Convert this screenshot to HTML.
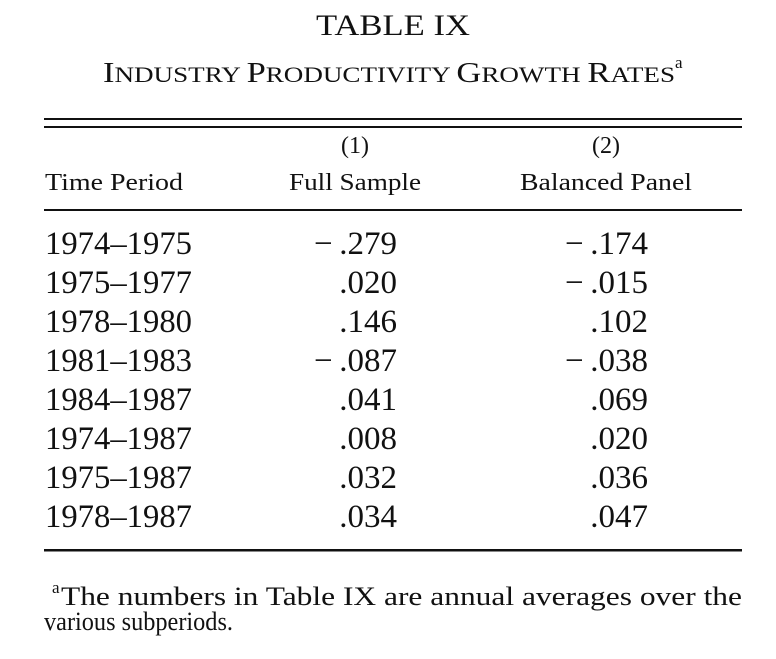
<!DOCTYPE html>
<html><head><meta charset="utf-8"><style>
html,body{margin:0;padding:0;background:#fff;}
svg{display:block;font-family:"Liberation Serif",serif;fill:#111;}
</style></head><body>
<svg width="776" height="659" viewBox="0 0 776 659">
<text x="316" y="35" font-size="30" textLength="154" lengthAdjust="spacingAndGlyphs">TABLE IX</text>
<text x="103" y="82" font-size="22" textLength="572" lengthAdjust="spacingAndGlyphs"><tspan font-size="28">I</tspan>NDUSTRY <tspan font-size="28">P</tspan>RODUCTIVITY <tspan font-size="28">G</tspan>ROWTH <tspan font-size="28">R</tspan>ATES</text>
<text x="675" y="68" font-size="17">a</text>
<rect x="44" y="118" width="698" height="2" fill="#111"/>
<rect x="44" y="126" width="698" height="2" fill="#111"/>
<text x="355" y="153" font-size="24" text-anchor="middle">(1)</text>
<text x="606" y="153" font-size="24" text-anchor="middle">(2)</text>
<text x="45" y="190" font-size="24" textLength="138" lengthAdjust="spacingAndGlyphs">Time Period</text>
<text x="289" y="190" font-size="24" textLength="132" lengthAdjust="spacingAndGlyphs">Full Sample</text>
<text x="520" y="190" font-size="24" textLength="172" lengthAdjust="spacingAndGlyphs">Balanced Panel</text>
<rect x="44" y="209" width="698" height="2" fill="#111"/>
<g id="rows"></g>
<rect x="44" y="549" width="698" height="2.5" fill="#111"/>
<text x="52" y="593" font-size="17">a</text>
<text x="61" y="605" font-size="26" textLength="681" lengthAdjust="spacingAndGlyphs">The numbers in Table IX are annual averages over the</text>
<text x="44" y="630" font-size="26" textLength="189" lengthAdjust="spacingAndGlyphs">various subperiods.</text>
</svg>
<script>
const periods=["1974–1975","1975–1977","1978–1980","1981–1983","1984–1987","1974–1987","1975–1987","1978–1987"];
const fullSample=[-0.279,0.020,0.146,-0.087,0.041,0.008,0.032,0.034];
const balancedPanel=[-0.174,-0.015,0.102,-0.038,0.069,0.020,0.036,0.047];
const NS="http://www.w3.org/2000/svg";
const g=document.getElementById('rows');
function fmt(v){const s=Math.abs(v).toFixed(3).replace(/^0/,'');return (v<0?'−\u2009':'')+s;}
function rowY(i){return 254+i*39;}
function txt(x,y,s,anchor,len){const t=document.createElementNS(NS,'text');t.setAttribute('x',x);t.setAttribute('y',y);t.setAttribute('font-size','33');if(anchor)t.setAttribute('text-anchor',anchor);if(len){t.setAttribute('textLength',len);t.setAttribute('lengthAdjust','spacingAndGlyphs');}t.textContent=s;g.appendChild(t);return t;}
periods.forEach((p,i)=>{
  const y=rowY(i);
  const a=txt(45,y,p,null,147);
  
  
  const b=txt(397,y,fmt(fullSample[i]),'end');
  
  
  const c=txt(648,y,fmt(balancedPanel[i]),'end');
  
  
});
</script>
</body></html>
